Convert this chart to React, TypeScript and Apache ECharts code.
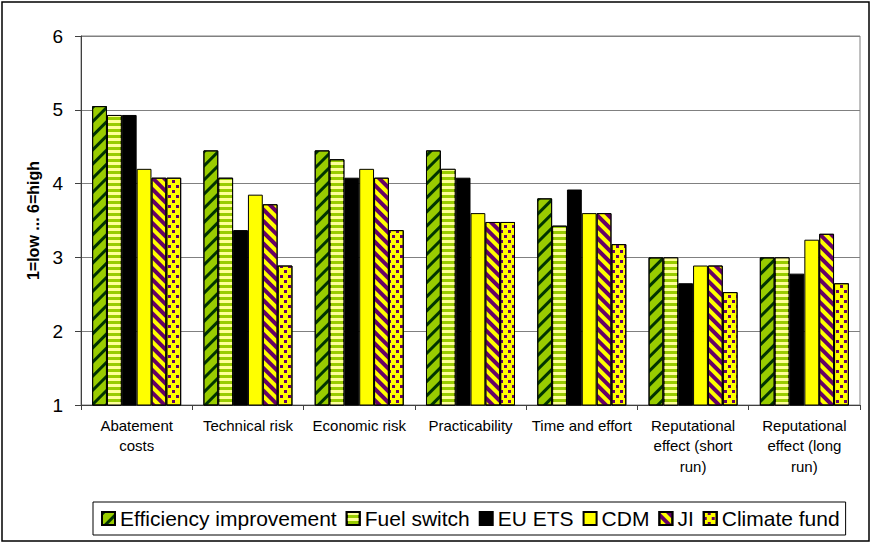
import React, { useEffect, useRef } from "react";
import * as echarts from "echarts";

const categories = [
  "Abatement\ncosts",
  "Technical risk",
  "Economic risk",
  "Practicability",
  "Time and effort",
  "Reputational\neffect (short\nrun)",
  "Reputational\neffect (long\nrun)",
];
const seriesNames = ["Efficiency improvement", "Fuel switch", "EU ETS", "CDM", "JI", "Climate fund"];
const efficiency = [5.05, 4.45, 4.45, 4.45, 3.8, 3.0, 3.0];
const fuelSwitch = [4.93, 4.08, 4.33, 4.2, 3.43, 3.0, 3.0];
const euEts = [4.93, 3.37, 4.08, 4.08, 3.92, 2.65, 2.78];
const cdm = [4.2, 3.85, 4.2, 3.6, 3.6, 2.89, 3.24];
const ji = [4.08, 3.72, 4.08, 3.48, 3.6, 2.89, 3.32];
const climateFund = [4.08, 2.89, 3.37, 3.48, 3.18, 2.53, 2.65];
const yTicks = { min: 1, max: 6, interval: 1 };

const GREEN = "#99CC00";
const DARK = "#003300";
const LIGHT = "#FFFF99";
const YELLOW = "#FFFF00";
const PURPLE = "#660066";

export default function App() {
  const ref = useRef<HTMLDivElement>(null);
  useEffect(() => {
    if (!ref.current) return;
    const chart = echarts.init(ref.current, undefined, { renderer: "svg" });
    const font = "'Liberation Sans', Arial, sans-serif";
    const styles: any[] = [
      {
        color: GREEN,
        decal: { symbol: "rect", symbolSize: 1, dashArrayX: [1, 0], dashArrayY: [3, 7], rotation: -Math.PI / 4, color: DARK },
      },
      {
        color: GREEN,
        decal: { symbol: "rect", symbolSize: 1, dashArrayX: [1, 0], dashArrayY: [3, 3], rotation: 0, color: LIGHT },
      },
      { color: "#000000" },
      { color: YELLOW },
      {
        color: YELLOW,
        decal: { symbol: "rect", symbolSize: 1, dashArrayX: [1, 0], dashArrayY: [4, 4], rotation: Math.PI / 4, color: PURPLE },
      },
      {
        color: YELLOW,
        decal: { symbol: "rect", symbolSize: 1, dashArrayX: [[3, 5], [0, 4, 3, 1]], dashArrayY: [3, 2], rotation: 0, color: PURPLE },
      },
    ];
    const values = [efficiency, fuelSwitch, euEts, cdm, ji, climateFund];
    chart.setOption({
      animation: false,
      textStyle: { fontFamily: font },
      grid: {
        left: 81,
        right: 13,
        top: 36,
        bottom: 139,
        show: true,
        borderColor: "#808080",
        borderWidth: 1,
      },
      legend: {
        left: 93,
        top: 502,
        padding: [6, 6, 6, 8],
        itemGap: 9,
        itemWidth: 13,
        itemHeight: 13,
        icon: "rect",
        borderColor: "#000",
        borderWidth: 1,
        textStyle: { fontSize: 21, color: "#000", fontFamily: font },
        data: seriesNames,
      },
      xAxis: {
        type: "category",
        data: categories,
        axisLine: { lineStyle: { color: "#404040", width: 1 } },
        axisTick: { show: true, length: 5, lineStyle: { color: "#404040" } },
        axisLabel: { fontSize: 15, color: "#000", lineHeight: 20.5, margin: 10, interval: 0, fontFamily: font },
      },
      yAxis: {
        type: "value",
        min: yTicks.min,
        max: yTicks.max,
        interval: yTicks.interval,
        name: "1=low ... 6=high",
        nameLocation: "middle",
        nameRotate: 90,
        nameGap: 38,
        nameTextStyle: { fontSize: 16, fontWeight: "bold", color: "#000", fontFamily: font },
        axisLine: { show: true, lineStyle: { color: "#404040", width: 1 } },
        axisTick: { show: true, length: 6, lineStyle: { color: "#404040" } },
        axisLabel: { fontSize: 19, color: "#000", margin: 18, fontFamily: font },
        splitLine: { lineStyle: { color: "#808080", width: 1 } },
      },
      series: seriesNames.map((name, i) => ({
        name,
        type: "bar",
        data: values[i],
        barGap: "0%",
        barCategoryGap: "20%",
        itemStyle: { ...styles[i], borderColor: "#000", borderWidth: 1 },
        emphasis: { disabled: true },
      })),
      graphic: [
        {
          type: "rect",
          shape: { x: 2, y: 2, width: 867, height: 539 },
          style: { fill: "none", stroke: "#000", lineWidth: 1.5 },
          silent: true,
        },
      ],
    });
    return () => chart.dispose();
  }, []);
  return (
    <div
      ref={ref}
      style={{ position: "absolute", left: 0, top: 0, width: 873, height: 544, background: "#fff" }}
    />
  );
}
